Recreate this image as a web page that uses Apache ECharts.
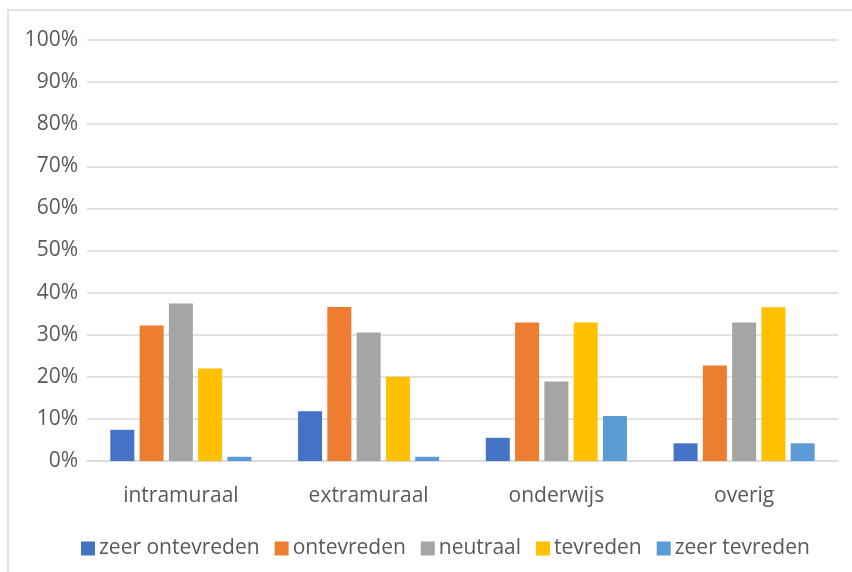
<!DOCTYPE html>
<html>
<head>
<meta charset="utf-8">
<script src="https://cdn.jsdelivr.net/npm/echarts@6/dist/echarts.min.js"></script>
<style>
  html, body { margin: 0; padding: 0; background: #fff; }
  #chart { width: 852px; height: 572px; }
</style>
</head>
<body>
<div id="chart"></div>
<script>
// Satisfaction per sector, share of respondents (%)
const categories = ['intramuraal', 'extramuraal', 'onderwijs', 'overig'];
const zeerOntevreden = [7.4, 11.8, 5.5, 4.2];
const ontevreden = [32.2, 36.6, 32.9, 22.7];
const neutraal = [37.4, 30.5, 18.9, 32.9];
const tevreden = [22.0, 20.0, 32.9, 36.5];
const zeerTevreden = [1.0, 1.0, 10.7, 4.2];
const yTicks = { min: 0, max: 100, step: 10 };

const seriesDefs = [
  { name: 'zeer ontevreden', data: zeerOntevreden, color: '#4472C4' },
  { name: 'ontevreden', data: ontevreden, color: '#ED7D31' },
  { name: 'neutraal', data: neutraal, color: '#A5A5A5' },
  { name: 'tevreden', data: tevreden, color: '#FFC000' },
  { name: 'zeer tevreden', data: zeerTevreden, color: '#5B9BD5' }
];

const font = '"Open Sans", "Noto Sans", sans-serif';
const textColor = '#595959';

const chart = echarts.init(document.getElementById('chart'), null, { renderer: 'canvas' });
chart.setOption({
  animation: false,
  backgroundColor: '#ffffff',
  graphic: [{
    type: 'rect',
    shape: { x: 8, y: 10, width: 900, height: 600 },
    style: { fill: 'none', stroke: '#d9d9d9', lineWidth: 1.5 },
    silent: true,
    z: -10
  }],
  grid: { left: 87, right: 14, top: 40, bottom: 111, containLabel: false },
  legend: {
    left: 76,
    top: 533,
    icon: 'rect',
    itemWidth: 14,
    itemHeight: 14,
    itemGap: 15,
    textStyle: { fontFamily: font, fontSize: 21, color: textColor, padding: [0, 0, 0, -1] },
    data: seriesDefs.map(s => s.name)
  },
  xAxis: {
    type: 'category',
    data: categories,
    axisLine: { lineStyle: { color: '#d9d9d9', width: 1.5 } },
    axisTick: { show: false },
    axisLabel: { fontFamily: font, fontSize: 21, color: textColor, margin: 25 }
  },
  yAxis: {
    type: 'value',
    min: yTicks.min,
    max: yTicks.max,
    interval: yTicks.step,
    axisLine: { show: false },
    axisTick: { show: false },
    splitLine: { lineStyle: { color: '#d9d9d9', width: 1.5 } },
    axisLabel: { fontFamily: font, fontSize: 21, color: textColor, margin: 9, formatter: '{value}%' }
  },
  series: seriesDefs.map(s => ({
    type: 'bar',
    name: s.name,
    data: s.data,
    barWidth: 24,
    barGap: '22%',
    itemStyle: { color: s.color }
  }))
});
</script>
</body>
</html>
